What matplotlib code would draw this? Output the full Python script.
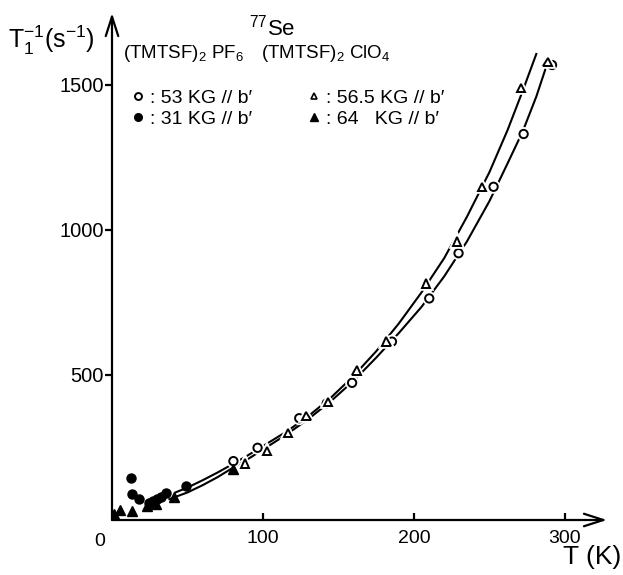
import matplotlib
matplotlib.use("Agg")
import matplotlib.pyplot as plt
import matplotlib.patheffects as pe
from matplotlib.lines import Line2D

plt.rcParams['font.family'] = ['Liberation Sans', 'DejaVu Sans']
plt.rcParams['mathtext.default'] = 'regular'

# 77Se relaxation rate vs temperature
# (TMTSF)2 PF6, 53 KG // b'  (open circles)
t_pf6_53 = [80.4, 96.4, 124, 142.2, 159, 185.4, 210.1, 229.5, 252.7, 272.6, 291.4]
r_pf6_53 = [203, 249, 351, 402, 473, 615, 764, 920, 1149, 1331, 1569]
# (TMTSF)2 PF6, 31 KG // b'  (filled circles)
t_pf6_31 = [12.3, 13.5, 18, 24.5, 27, 30, 32.5, 36, 49]
r_pf6_31 = [145, 89, 71, 60, 67, 73, 80, 93, 117]
# (TMTSF)2 ClO4, 56.5 KG // b'  (open triangles)
t_clo4_565 = [88.3, 102.6, 116.5, 128.7, 143, 162, 181.7, 208.1, 228.5, 245, 270.9, 288.5]
r_clo4_565 = [195, 238, 299, 359, 408, 515, 615, 816, 960, 1149, 1489, 1580]
# (TMTSF)2 ClO4, 64 KG // b'  (filled triangles)
t_clo4_64 = [1, 5.5, 13.5, 23.5, 29, 41, 80]
r_clo4_64 = [22, 36, 32, 49, 56, 78, 175]

# hand drawn curves through the data
fit_t_clo4 = [42, 50, 60, 70, 80, 90, 100, 115, 130, 145, 160, 175, 190, 205, 220, 235, 250, 262, 272, 281]
fit_r_clo4 = [95, 112, 137, 164, 193, 223, 255, 303, 358, 422, 497, 582, 678, 785, 903, 1045, 1200, 1345, 1480, 1607]
fit_t_pf6 = [38, 50, 60, 70, 80, 90, 100, 115, 130, 145, 160, 175, 190, 205, 220, 235, 250, 262, 272, 281, 288]
fit_r_pf6 = [72, 95, 120, 148, 180, 210, 243, 293, 348, 410, 480, 560, 645, 735, 840, 960, 1100, 1230, 1340, 1460, 1570]

x_ticks = [100, 200, 300]
y_ticks = [500, 1000, 1500]

W, H = 623, 575
fig = plt.figure(figsize=(W / 100, H / 100), dpi=100)
# axes placed in pixels: origin at (112, 520), x arrow tip at 607, y arrow tip at 13
ax = fig.add_axes([112 / W, (H - 520) / H, (607 - 112) / W, (520 - 13) / H])
ax.set_xlim(0, (607 - 112) / 1.51)
ax.set_ylim(0, (520 - 13) / 0.29)

for s in ax.spines.values():
    s.set_visible(False)
arrow = dict(arrowstyle='->,head_length=1.4,head_width=0.45', lw=1.6, color='black',
             shrinkA=0, shrinkB=0)
ax.annotate('', xy=(1, 0), xytext=(0, 0), xycoords='axes fraction', arrowprops=arrow)
ax.annotate('', xy=(0, 1), xytext=(0, 0), xycoords='axes fraction', arrowprops=arrow)

ax.set_xticks(x_ticks)
ax.set_yticks(y_ticks)
ax.tick_params(axis='x', direction='in', length=5, width=1.6, pad=7, labelsize=14)
ax.tick_params(axis='y', direction='out', length=5, width=1.6, pad=1, labelsize=14.5)
ax.annotate('0', xy=(0, 0), xytext=(-5, -9), textcoords='offset points',
            ha='right', va='top', fontsize=14)

# curves
ax.plot(fit_t_clo4, fit_r_clo4, color='black', lw=1.5, zorder=2)
ax.plot(fit_t_pf6, fit_r_pf6, color='black', lw=1.5, zorder=2)

halo = [pe.Stroke(linewidth=4, foreground='white'), pe.Normal()]
ax.plot(t_pf6_53, r_pf6_53, 'o', ms=6, mfc='white', mec='black', mew=1.4,
        path_effects=halo, zorder=3)
ax.plot(t_clo4_565, r_clo4_565, '^', ms=6, mfc='white', mec='black', mew=1.4,
        path_effects=halo, zorder=3)
ax.plot(t_pf6_31, r_pf6_31, 'o', ms=6.5, color='black', zorder=3)
ax.plot(t_clo4_64, r_clo4_64, '^', ms=7, color='black', zorder=3)

# labels
fig.text(51 / W, 1 - 40 / H, r'$T_1^{-1}$(s$^{-1}$)', ha='center', va='center', fontsize=18)
fig.text(592 / W, 1 - 557 / H, 'T (K)', ha='center', va='center', fontsize=19)
fig.text(272 / W, 1 - 28 / H, r'$^{77}$Se', ha='center', va='center', fontsize=16)
fig.text(123 / W, 1 - 54 / H, r'(TMTSF)$_2$ PF$_6$', ha='left', va='center', fontsize=13.5)
fig.text(261 / W, 1 - 54 / H, r'(TMTSF)$_2$ ClO$_4$', ha='left', va='center', fontsize=13.5)

handles = [
    Line2D([], [], ls='none', marker='o', ms=5, mfc='white', mec='black', mew=1.4),
    Line2D([], [], ls='none', marker='o', ms=5.5, color='black'),
    Line2D([], [], ls='none', marker='^', ms=5, mfc='white', mec='black', mew=1.2),
    Line2D([], [], ls='none', marker='^', ms=6, color='black'),
]
labels = [": 53 KG // b\u2032", ": 31 KG // b\u2032",
          ": 56.5 KG // b\u2032", ": 64   KG // b\u2032"]
fig.legend(handles, labels, loc='upper left', bbox_to_anchor=(132 / W, 1 - 89 / H),
           ncol=2, frameon=False, fontsize=14, handlelength=0.6, handletextpad=0.3,
           labelspacing=0.2, columnspacing=2.9, borderpad=0, borderaxespad=0)

fig.savefig('out.png', dpi=100)
